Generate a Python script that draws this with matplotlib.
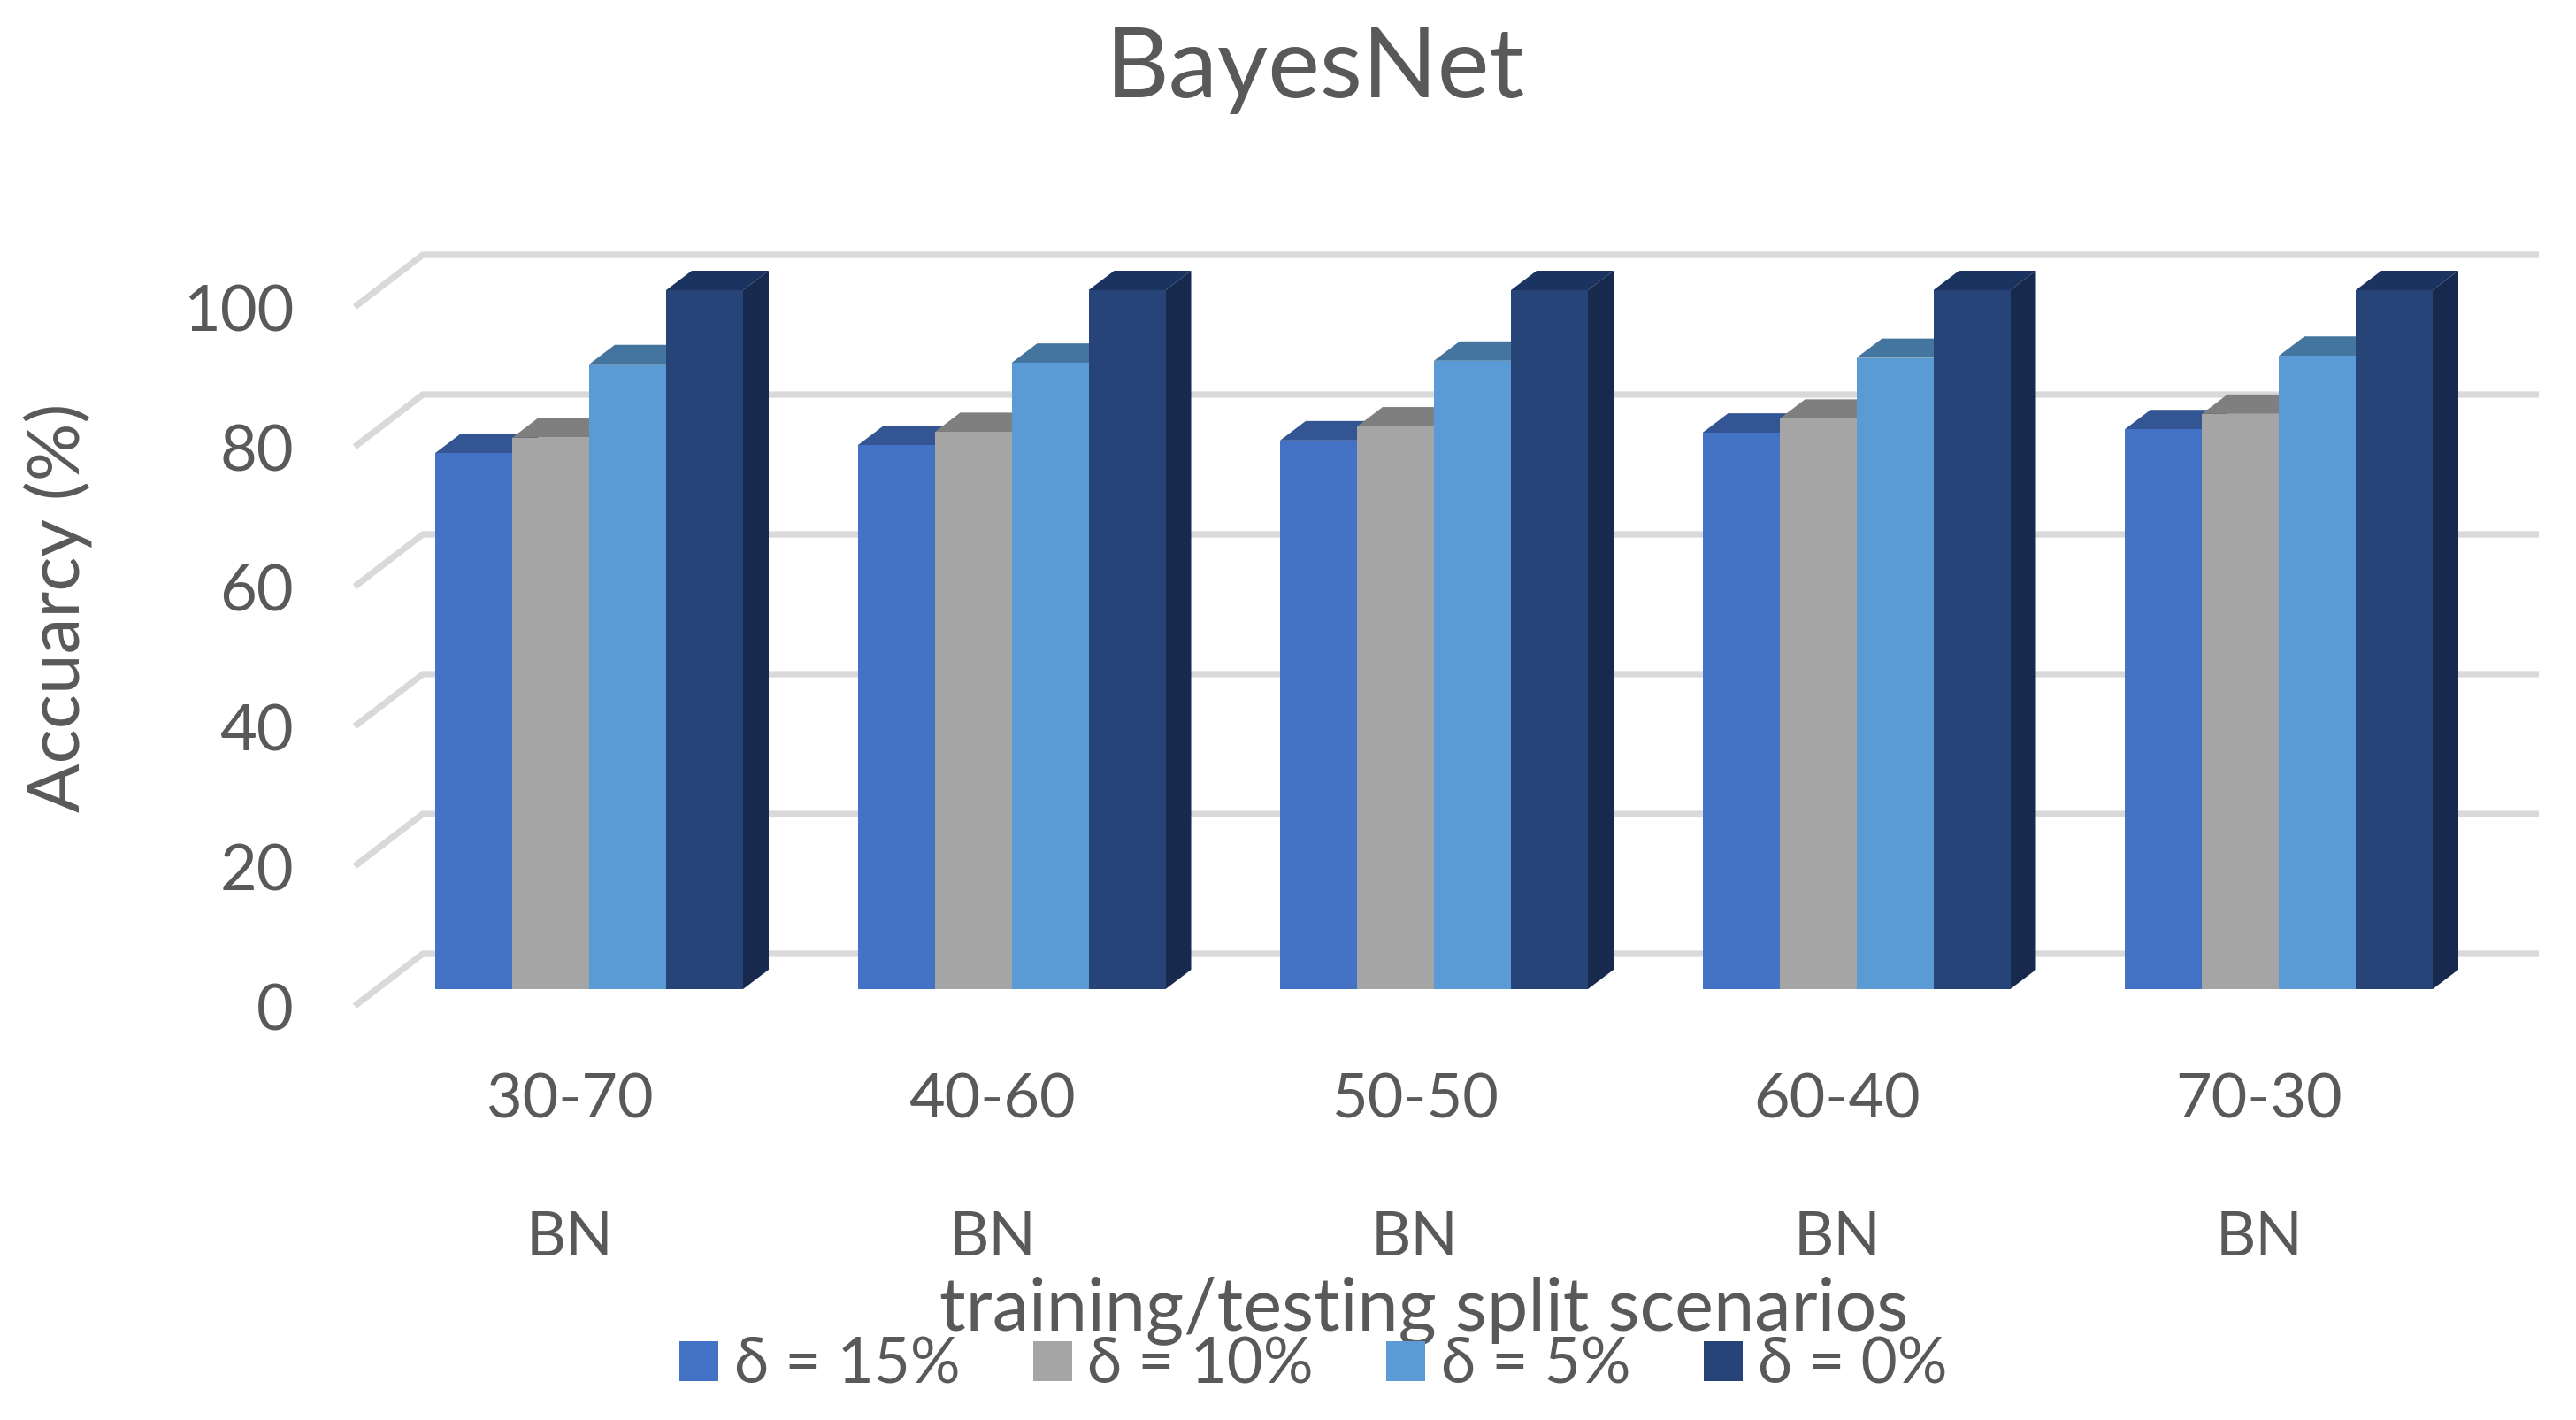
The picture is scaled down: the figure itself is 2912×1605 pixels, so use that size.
import matplotlib
matplotlib.use("Agg")
import matplotlib.pyplot as plt
from matplotlib.patches import Polygon, Patch
from matplotlib.transforms import ScaledTranslation

splits = ["30-70", "40-60", "50-50", "60-40", "70-30"]
model = ["BN", "BN", "BN", "BN", "BN"]
series_names = ["δ = 15%", "δ = 10%", "δ = 5%", "δ = 0%"]
d15 = [76.7, 77.8, 78.5, 79.6, 80.1]
d10 = [78.9, 79.7, 80.5, 81.6, 82.3]
d5 = [89.4, 89.6, 89.9, 90.3, 90.6]
d0 = [100, 100, 100, 100, 100]
yticks = [0, 20, 40, 60, 80, 100]
front_cols = ["#4472c4", "#a5a5a5", "#5b9bd5", "#264478"]
top_cols = ["#335593", "#7f7f7f", "#44759f", "#1b3360"]
side_cols = ["#2a4a85", "#6e6e6e", "#3d6a92", "#172a4d"]
TXT = "#595959"
FONT = ["Lato", "DejaVu Sans"]

W, H, DPI = 2912, 1605, 100
plt.rcParams["font.family"] = FONT
fig = plt.figure(figsize=(W / DPI, H / DPI), dpi=DPI, facecolor="white")
L, R, B, T = 401, 2870, 1137, 288
ax = fig.add_axes([L / W, 1 - B / H, (R - L) / W, (B - T) / H])
PXY = 7.9
PXX = 477.5
ax.set_ylim((1118 - B) / PXY, (1118 - T) / PXY)
ax.set_xlim((L - 666) / PXX, (R - 666) / PXX)
for s in ax.spines.values():
    s.set_visible(False)
ax.patch.set_visible(False)

bw = 87 / PXX
ddx, ddy = 29 / PXX, 22 / PXY
floor_front = (1118 - B) / PXY
floor_back = (1118 - 1078) / PXY
wall_dx = 77 / PXX
xl, xr = ax.get_xlim()
for v in yticks:
    ax.plot([xl, xl + wall_dx, xr], [v + floor_front, v + floor_back, v + floor_back],
            color="#d9d9d9", lw=5.2, solid_joinstyle="miter", solid_capstyle="butt",
            clip_on=False, zorder=1)

series = [d15, d10, d5, d0]
handles = []
for k, vals in enumerate(series):
    xs = [i + (k - 1.5) * bw for i in range(len(vals))]
    cont = ax.bar(xs, vals, width=bw, color=front_cols[k], zorder=3 + 2 * k, linewidth=0)
    handles.append(Patch(facecolor=front_cols[k], label=series_names[k]))
    for x, v in zip(xs, vals):
        a, b = x - bw / 2, x + bw / 2
        ax.add_patch(Polygon([(a, v), (b, v), (b + ddx, v + ddy), (a + ddx, v + ddy)],
                             closed=True, fc=top_cols[k], ec="none", zorder=2 + 2 * k, clip_on=False))
        ax.add_patch(Polygon([(b, 0), (b + ddx, ddy), (b + ddx, v + ddy), (b, v)],
                             closed=True, fc=side_cols[k], ec="none", zorder=2 + 2 * k, clip_on=False))

# y ticks: labels sit at the front edge of the wall gridlines
ax.set_yticks(yticks)
ax.tick_params(axis="y", length=0, pad=69 * 72 / DPI, labelsize=52, labelcolor=TXT)
shift = ScaledTranslation(0, -20 / DPI, fig.dpi_scale_trans)
for lab in ax.get_yticklabels():
    lab.set_transform(lab.get_transform() + shift)

# two-row category axis
pos = [i - 22 / PXX for i in range(len(splits))]
ax.set_xticks(pos)
ax.set_xticklabels(splits)
ax.set_xticks([p + 1e-4 for p in pos], minor=True)
ax.set_xticklabels(model, minor=True)
ax.tick_params(axis="x", which="major", length=0, pad=75 * 72 / DPI, labelsize=50.5, labelcolor=TXT)
ax.tick_params(axis="x", which="minor", length=0, pad=231 * 72 / DPI, labelsize=50.5, labelcolor=TXT)

fig.text(1487 / W, 1 - 79 / H, "BayesNet", ha="center", va="center", fontsize=80, color=TXT)
fig.text(65 / W, 1 - 687 / H, "Accuarcy (%)", ha="center", va="center", rotation=90, fontsize=59, color=TXT)
fig.text(1610 / W, 1 - 1481 / H, "training/testing split scenarios", ha="center", va="center", fontsize=59.7, color=TXT)

leg = fig.legend(handles=handles, loc="center", bbox_to_anchor=(1485 / W, 1 - 1543 / H), ncol=4,
                 frameon=False, fontsize=51, labelcolor=TXT, handlelength=44 / 70.8, handleheight=0.6,
                 handletextpad=0.25, columnspacing=1.16, borderpad=0, borderaxespad=0)
fig.savefig("out.png", dpi=DPI, facecolor="white")
